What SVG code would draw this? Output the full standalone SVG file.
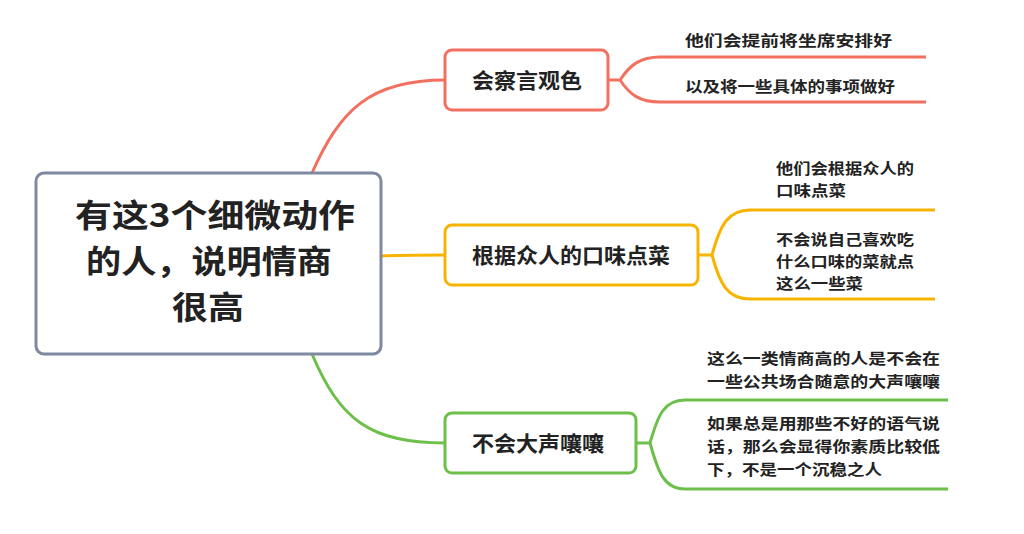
<svg xmlns="http://www.w3.org/2000/svg" width="1024" height="534" viewBox="0 0 1024 534">
<style>
text{font-family:"Noto Sans CJK SC","Liberation Sans",sans-serif;font-weight:bold;fill:#222}
.b{fill:#fff;stroke-width:3}
.l{fill:none;stroke-width:3}
.r{stroke:#f2705f}.o{stroke:#f6b400}.g{stroke:#6cc04a}
.t{font-size:21px}.s{font-size:15px}
</style>
<rect width="1024" height="534" fill="#fff"/>
<g id="connectors">
<path class="l r" d="M312,173 C340,110 370,80 445,80" stroke-width="6"/>
<path class="l o" d="M381,256 C400,255 420,255 445,255" stroke-width="5"/>
<path class="l g" d="M312,354 C340,420 370,443 445,443" stroke-width="5"/>
<path class="l r" d="M608,80 H620 C630,65 640,57 660,57 H926 M620,80 C630,95 640,102 660,102 H926"/>
<path class="l o" d="M698,255 H712 C720,225 728,210 750,210 H935 M712,255 C720,285 728,299 750,299 H935"/>
<path class="l g" d="M636,443 H650 C658,415 664,400 685,400 H948 M650,443 C658,472 664,489 685,489 H948"/>
</g>
<g id="root"><rect class="b" x="36" y="173" width="345" height="181" rx="8" stroke="#7d8aa0"/>
<text x="75" y="227" font-size="32" textLength="280" lengthAdjust="spacingAndGlyphs">有这3个细微动作</text>
<text x="86" y="273" font-size="32" textLength="246" lengthAdjust="spacingAndGlyphs">的人，说明情商</text>
<text x="172" y="319" font-size="32" textLength="72" lengthAdjust="spacingAndGlyphs">很高</text></g>
<g id="n1"><rect class="b r" x="445" y="50" width="163" height="60" rx="7"/><text class="t" x="472" y="88" textLength="110" lengthAdjust="spacingAndGlyphs">会察言观色</text></g>
<g id="n2"><rect class="b o" x="445" y="225" width="253" height="60" rx="7"/><text class="t" x="472" y="263" textLength="198" lengthAdjust="spacingAndGlyphs">根据众人的口味点菜</text></g>
<g id="n3"><rect class="b g" x="445" y="413" width="191" height="60" rx="7"/><text class="t" x="472" y="451" textLength="132" lengthAdjust="spacingAndGlyphs">不会大声嚷嚷</text></g>
<g id="leaves">
<text class="s" x="685" y="46" textLength="207" lengthAdjust="spacingAndGlyphs">他们会提前将坐席安排好</text>
<text class="s" x="685" y="92" textLength="210" lengthAdjust="spacingAndGlyphs">以及将一些具体的事项做好</text>
<text class="s" x="776" y="174" textLength="138" lengthAdjust="spacingAndGlyphs">他们会根据众人的</text>
<text class="s" x="776" y="196" textLength="70" lengthAdjust="spacingAndGlyphs">口味点菜</text>
<text class="s" x="776" y="245" textLength="138" lengthAdjust="spacingAndGlyphs">不会说自己喜欢吃</text>
<text class="s" x="776" y="267" textLength="138" lengthAdjust="spacingAndGlyphs">什么口味的菜就点</text>
<text class="s" x="776" y="289" textLength="87" lengthAdjust="spacingAndGlyphs">这么一些菜</text>
<text class="s" x="707" y="364" textLength="233" lengthAdjust="spacingAndGlyphs">这么一类情商高的人是不会在</text>
<text class="s" x="707" y="387" textLength="233" lengthAdjust="spacingAndGlyphs">一些公共场合随意的大声嚷嚷</text>
<text class="s" x="707" y="429" textLength="233" lengthAdjust="spacingAndGlyphs">如果总是用那些不好的语气说</text>
<text class="s" x="707" y="452" textLength="233" lengthAdjust="spacingAndGlyphs">话，那么会显得你素质比较低</text>
<text class="s" x="707" y="475" textLength="175" lengthAdjust="spacingAndGlyphs">下，不是一个沉稳之人</text>
</g>
</svg>
